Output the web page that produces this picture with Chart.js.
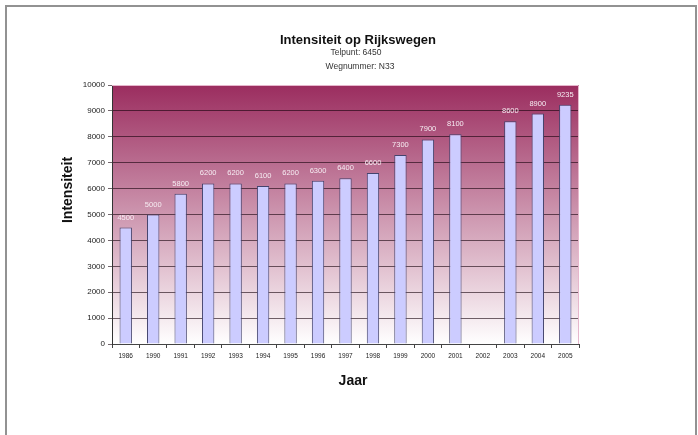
<!DOCTYPE html>
<html lang="nl">
<head>
  <meta charset="utf-8" />
  <title>Intensiteit op Rijkswegen</title>
  <script src="https://cdn.jsdelivr.net/npm/chart.js@4.4.1/dist/chart.umd.min.js"></script>
  <style>
    html, body { margin: 0; padding: 0; background: #fff; overflow: hidden; }
    .wrap { position: relative; width: 698px; height: 435px; }
    canvas { position: absolute; left: 0; top: 0; }
    .frame {
      position: absolute; left: 5px; top: 5px; width: 688px; height: 450px;
      border: 2px solid #929292; pointer-events: none;
    }
  </style>
</head>
<body>
  <div class="wrap">
    <canvas id="chart" width="698" height="435"></canvas>
    <div class="frame"></div>
  </div>

  <script>
    // data
    const years = ['1986', '1990', '1991', '1992', '1993', '1994', '1995', '1996', '1997',
                   '1998', '1999', '2000', '2001', '2002', '2003', '2004', '2005'];
    const intensiteit = [4500, 5000, 5800, 6200, 6200, 6100, 6200, 6300, 6400,
                         6600, 7300, 7900, 8100, null, 8600, 8900, 9235];
    const yMin = 0;
    const yMax = 10000;
    const yStep = 1000;

    const titleText = 'Intensiteit op Rijkswegen';
    const subtitleLines = ['Telpunt: 6450', 'Wegnummer: N33'];
    const xTitle = 'Jaar';
    const yTitle = 'Intensiteit';

    const FONT = "'Liberation Sans', Arial, sans-serif";
    Chart.defaults.font.family = FONT;

    // magenta-to-white gradient behind the plot
    const plotBackground = {
      id: 'plotBackground',
      beforeDraw(chart) {
        const { ctx, chartArea: a } = chart;
        const g = ctx.createLinearGradient(0, a.top, 0, a.bottom);
        g.addColorStop(0, '#9b2d5f');
        g.addColorStop(1, '#ffffff');
        ctx.save();
        ctx.fillStyle = g;
        ctx.fillRect(a.left, a.top, a.right - a.left, a.bottom - a.top);
        ctx.restore();
      },
      afterDraw(chart) {
        const { ctx, chartArea: a } = chart;
        ctx.save();
        ctx.strokeStyle = '#e6b6cc';
        ctx.lineWidth = 1;
        ctx.beginPath();
        ctx.moveTo(a.left, a.top + 0.5);
        ctx.lineTo(a.right - 0.5, a.top + 0.5);
        ctx.lineTo(a.right - 0.5, a.bottom);
        ctx.stroke();
        ctx.restore();
      }
    };

    // value labels above the bars
    const barLabels = {
      id: 'barLabels',
      afterDatasetsDraw(chart) {
        const { ctx } = chart;
        const meta = chart.getDatasetMeta(0);
        ctx.save();
        ctx.font = '7.5px ' + FONT;
        ctx.fillStyle = '#f6ecf2';
        ctx.textAlign = 'center';
        ctx.textBaseline = 'middle';
        meta.data.forEach((bar, i) => {
          const v = intensiteit[i];
          if (v === null) return;
          ctx.fillText(String(v), bar.x, bar.y - 10);
        });
        ctx.restore();
      }
    };

    // chart title, subtitle and axis titles
    const chartTexts = {
      id: 'chartTexts',
      afterDraw(chart) {
        const { ctx } = chart;
        ctx.save();
        ctx.textAlign = 'center';
        ctx.textBaseline = 'middle';
        ctx.fillStyle = '#111';
        ctx.font = 'bold 13px ' + FONT;
        ctx.fillText(titleText, 358, 40);
        ctx.font = '8.5px ' + FONT;
        ctx.fillStyle = '#333';
        ctx.fillText(subtitleLines[0], 356, 53);
        ctx.fillText(subtitleLines[1], 360, 67);
        ctx.fillStyle = '#111';
        ctx.font = 'bold 14px ' + FONT;
        ctx.fillText(xTitle, 353, 381);
        ctx.translate(68, 190);
        ctx.rotate(-Math.PI / 2);
        ctx.fillText(yTitle, 0, 0);
        ctx.restore();
      }
    };

    new Chart(document.getElementById('chart'), {
      type: 'bar',
      data: {
        labels: years,
        datasets: [{
          data: intensiteit,
          backgroundColor: '#ccccff',
          borderColor: '#44446e',
          borderWidth: 1,
          barPercentage: 0.45,
          categoryPercentage: 1
        }]
      },
      options: {
        responsive: false,
        animation: false,
        devicePixelRatio: 1,
        layout: { padding: { left: 0, right: 119, top: 85, bottom: 71 } },
        plugins: {
          legend: { display: false },
          tooltip: { enabled: false }
        },
        scales: {
          x: {
            grid: {
              offset: true,
              drawOnChartArea: false,
              drawTicks: true,
              tickLength: 4,
              color: '#444'
            },
            border: { color: '#444', width: 1 },
            ticks: {
              color: '#222',
              font: { size: 6.5 },
              padding: 4,
              maxRotation: 0,
              autoSkip: false
            },
            afterFit(scale) { scale.height = 20; }
          },
          y: {
            min: yMin,
            max: yMax,
            grid: {
              color: 'rgba(20,0,10,0.6)',
              tickLength: 4,
              drawTicks: true
            },
            border: { color: '#333', width: 1 },
            ticks: {
              stepSize: yStep,
              color: '#222',
              font: { size: 8 },
              padding: 3,
              callback: (v) => String(v)
            },
            afterFit(scale) { scale.width = 112; }
          }
        }
      },
      plugins: [plotBackground, barLabels, chartTexts]
    });
  </script>
</body>
</html>
